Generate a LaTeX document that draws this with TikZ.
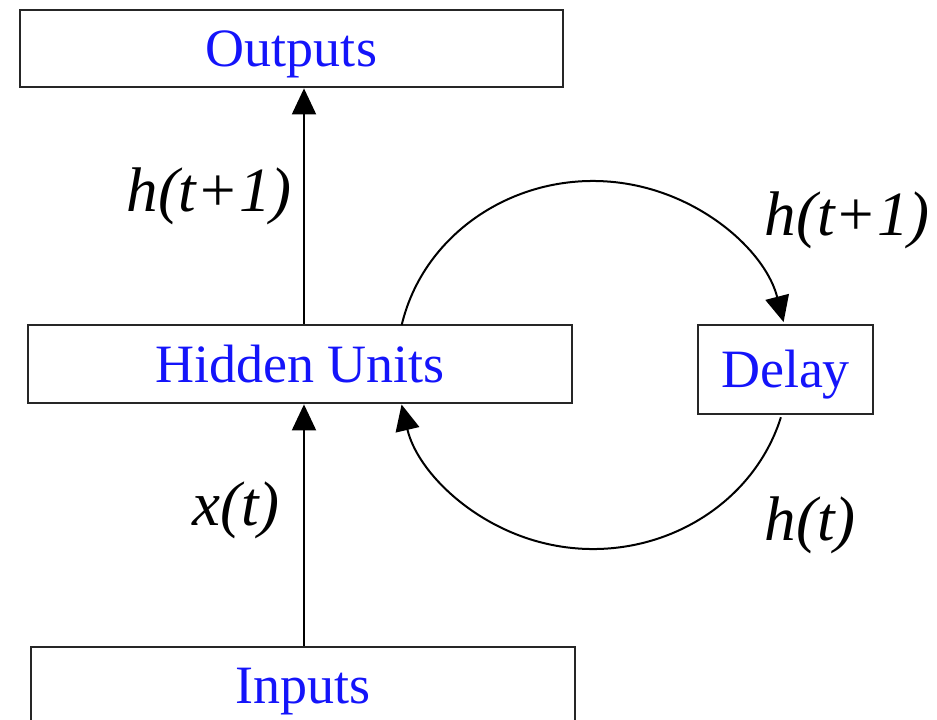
\documentclass[tikz,border=0pt]{standalone}
\usepackage{fontspec}
\setmainfont{Liberation Serif}
\usetikzlibrary{arrows.meta}
\definecolor{lblue}{RGB}{20,20,250}
\begin{document}
\begin{tikzpicture}[x=1pt,y=-1pt,
  unitbox/.style={draw=black!85,line width=2.8pt,inner sep=0pt,
    font=\fontsize{54}{60}\selectfont,text=lblue,text height=36pt,text depth=0pt},
  sig/.style={font=\fontsize{63}{70}\selectfont\itshape,inner sep=0pt},
  conn/.style={line width=2pt,-{Triangle[length=26pt,width=24pt]}}]
\useasboundingbox (0,0) rectangle (937,720);
\node[unitbox,minimum width=543pt,minimum height=77pt] (out) at (291.5,48.5) {Outputs};
\node[unitbox,minimum width=544pt,minimum height=78pt] (hid) at (300,364) {Hidden Units};
\node[unitbox,minimum width=544pt,minimum height=77pt] (inp) at (303,685.5) {Inputs};
\node[unitbox,minimum width=175pt,minimum height=89pt] (del) at (785.5,369.5) {Delay};
\coordinate (c) at (593,365);
\coordinate (ax) at (304,0);
\draw[conn] (hid.north -| ax) -- (out.south -| ax);
\draw[conn] (inp.north -| ax) -- (hid.south -| ax);
\draw[conn] (c) ++(-167.4:196 and 184) arc[start angle=-167.4,end angle=-13.5,x radius=196,y radius=184];
\draw[conn] (c) ++(16.5:196 and 184) arc[start angle=16.5,end angle=167.6,x radius=196,y radius=184];
\node[sig] (l1) at (209,196) {h(t+1)};
\node[sig] (l2) at (847,220) {h(t+1)};
\node[sig] (l3) at (236,510) {x(t)};
\node[sig] (l4) at (810,525) {h(t)};
\end{tikzpicture}
\end{document}
